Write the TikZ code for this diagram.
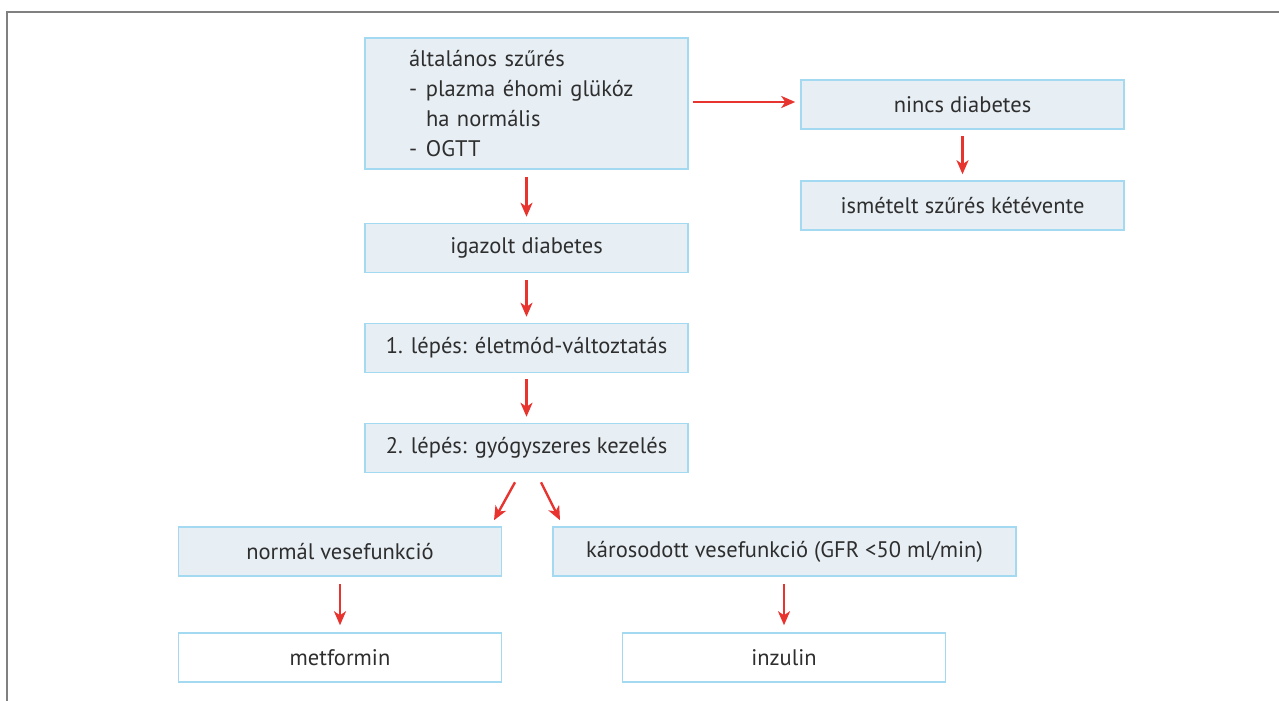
\documentclass[tikz,border=0pt]{standalone}
\usepackage{fontspec}
\setmainfont{PT Sans}
\usetikzlibrary{arrows.meta,positioning}
\definecolor{boxfill}{HTML}{E7EFF5}
\definecolor{boxline}{HTML}{A3D9F1}
\definecolor{arrred}{HTML}{E8342F}
\definecolor{txt}{HTML}{2E2E2E}
\definecolor{frame}{HTML}{808080}
\begin{document}
\begin{tikzpicture}[x=1pt,y=-1pt,
  every node/.style={font=\fontsize{22.5}{30}\selectfont, text=txt},
  box/.style={draw=boxline, line width=1.5pt, fill=boxfill, minimum width=323pt, minimum height=49pt, inner sep=0pt, align=center},
  wbox/.style={box, fill=white},
  arr/.style={draw=arrred, line width=2.4pt, -{Stealth[length=14pt,width=12pt,inset=4pt]}}
]
\useasboundingbox (0,0) rectangle (1279,701);
\draw[frame, line width=1.6pt] (7,701) -- (7,12) -- (1279,12);

\node[box, minimum height=131pt, text width=235pt, inner xsep=44pt, align=left] (b1) at (526.5,103.5)
 {általános szűrés\\
  \makebox[17pt][l]{-}plazma éhomi glükóz\\
  \hspace*{17pt}ha normális\\
  \makebox[17pt][l]{-}OGTT};
\node[box] (nincs) at (962.5,104.5) {nincs diabetes};
\node[box] (ism) at (962.5,205.5) {ismételt szűrés kétévente};
\node[box] (igaz) at (526.5,248) {igazolt diabetes};
\node[box] (s1) at (526.5,348) {1. lépés: életmód-változtatás};
\node[box] (s2) at (526.5,448) {2. lépés: gyógyszeres kezelés};
\node[box] (norm) at (340,551.5) {normál vesefunkció};
\node[box, minimum width=463pt] (karos) at (784.5,551.5) {károsodott vesefunkció (GFR <50 ml/min)};
\node[wbox] (metf) at (340,657.5) {metformin};
\node[wbox] (inz) at (784,657.5) {inzulin};

\draw[arr] ([xshift=4pt,yshift=1.5pt]b1.east) -- ([xshift=-5pt,yshift=1.5pt]b1.east -| nincs.west);
\draw[arr] ([yshift=-7pt]b1.south) -- ([yshift=6pt]igaz.north);
\draw[arr] ([yshift=-7pt]igaz.south) -- ([yshift=6pt]s1.north);
\draw[arr] ([yshift=-6pt]s1.south) -- ([yshift=6pt]s2.north);
\draw[arr] ([yshift=-6pt]nincs.south) -- ([yshift=6pt]ism.north);
\coordinate (dl) at ([shift={(-32.5,47)}]s2.south);
\coordinate (dr) at ([shift={(33.5,47)}]s2.south);
\draw[arr] ([shift={(-11.5,9)}]s2.south) -- (dl);
\draw[arr] ([shift={(14.5,9)}]s2.south) -- (dr);
\draw[arr] ([yshift=-7pt]norm.south) -- ([yshift=7pt]metf.north);
\draw[arr] ([yshift=-7pt]karos.south -| inz.north) -- ([yshift=7pt]inz.north);
\end{tikzpicture}
\end{document}
